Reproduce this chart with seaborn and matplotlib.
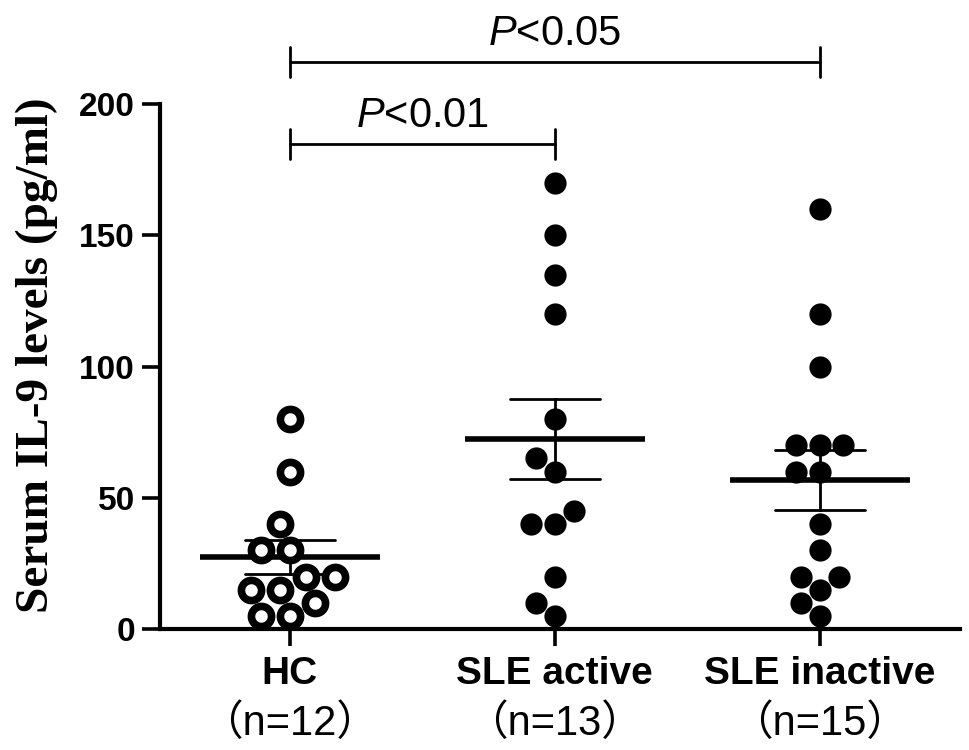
import numpy as np
import pandas as pd
import matplotlib
matplotlib.use("Agg")
import matplotlib.pyplot as plt
from matplotlib import transforms
import seaborn as sns

# ---------------- data ----------------
categories = ["HC", "SLE active", "SLE inactive"]
sample_labels = ["（n=12）", "（n=13）", "（n=15）"]
hc_values = [80, 60, 40, 30, 30, 20, 20, 15, 15, 10, 5, 5]
active_values = [170, 150, 135, 120, 80, 65, 60, 45, 40, 40, 20, 10, 5]
inactive_values = [160, 120, 100, 70, 70, 70, 60, 60, 40, 30, 20, 20, 15, 10, 5]
y_ticks = [0, 50, 100, 150, 200]
comparison_a = ["HC", "HC"]
comparison_b = ["SLE active", "SLE inactive"]
comparison_text = ["<0.01", "<0.05"]

df = pd.DataFrame({
    "group": (["HC"] * len(hc_values) + ["SLE active"] * len(active_values)
              + ["SLE inactive"] * len(inactive_values)),
    "value": hc_values + active_values + inactive_values,
})

# ---------------- style ----------------
sns.set_style("ticks")
plt.rcParams.update({
    "font.family": ["Liberation Sans", "Noto Sans CJK SC"],
    "mathtext.fontset": "custom",
    "mathtext.it": "Liberation Sans:italic",
    "mathtext.rm": "Liberation Sans",
    "mathtext.bf": "Liberation Sans:bold",
    "text.color": "black",
    "axes.labelcolor": "black",
    "xtick.color": "black",
    "ytick.color": "black",
    "axes.edgecolor": "black",
})

fig = plt.figure(figsize=(9.69, 7.5), dpi=100)
ax = fig.add_axes([0.165, 0.1613, 0.826, 0.70])

# open circles for HC
sns.swarmplot(data=df[df["group"] == "HC"], x="group", y="value", order=categories,
              color="white", edgecolor="black", linewidth=5.5, size=14.5, ax=ax)
# filled circles for SLE groups
sns.swarmplot(data=df[df["group"] != "HC"], x="group", y="value", order=categories,
              color="black", linewidth=0, size=16, ax=ax)

# mean +/- SEM
sns.pointplot(data=df, x="group", y="value", order=categories, errorbar="se",
              capsize=0.34, color="black", linestyle="none", marker="_",
              markersize=130, markeredgewidth=4, err_kws={"linewidth": 2.0}, ax=ax)

ax.set_xlim(-0.49, 2.53)
ax.set_ylim(0, 200)
ax.set_yticks(y_ticks)
ax.set_yticklabels([str(t) for t in y_ticks], fontsize=24, fontweight="bold")
ax.set_xticks(range(len(categories)))
ax.set_xticklabels(categories, fontsize=28, fontweight="bold")
ax.tick_params(axis="y", length=13, width=2.6, pad=5, color="black", labelcolor="black")
ax.tick_params(axis="x", length=12.5, width=2.6, pad=7, color="black", labelcolor="black")
sns.despine(ax=ax)
for s in ["left", "bottom"]:
    ax.spines[s].set_linewidth(3)
    ax.spines[s].set_color("black")

ax.set_xlabel("")
ax.set_ylabel("Serum IL-9 levels (pg/ml)", fontsize=34, fontweight="bold",
              family=["Liberation Serif"], color="black")
ax.yaxis.set_label_coords(-0.127, 0.522)

# second line of category labels
trans = transforms.blended_transform_factory(ax.transData, ax.transAxes)
for i, lab in enumerate(sample_labels):
    ax.text(i, -0.202, lab, transform=trans, ha="center", va="baseline",
            fontsize=30, color="black", family=["Liberation Sans", "Noto Sans CJK SC"])

# significance brackets
bracket_heights = [184.8, 216.0]
tick_half = 5.7
for a, b, txt, h in zip(comparison_a, comparison_b, comparison_text, bracket_heights):
    x0, x1 = categories.index(a), categories.index(b)
    ax.plot([x0, x1], [h, h], color="black", lw=2, clip_on=False)
    ax.plot([x0, x0], [h - tick_half, h + tick_half], color="black", lw=2, clip_on=False)
    ax.plot([x1, x1], [h - tick_half, h + tick_half], color="black", lw=2, clip_on=False)
    ax.text((x0 + x1) / 2, h + 6.3, r"$\mathit{P}$" + txt, ha="center", va="baseline",
            fontsize=30, color="black", clip_on=False)

fig.savefig("out.png", dpi=100)
